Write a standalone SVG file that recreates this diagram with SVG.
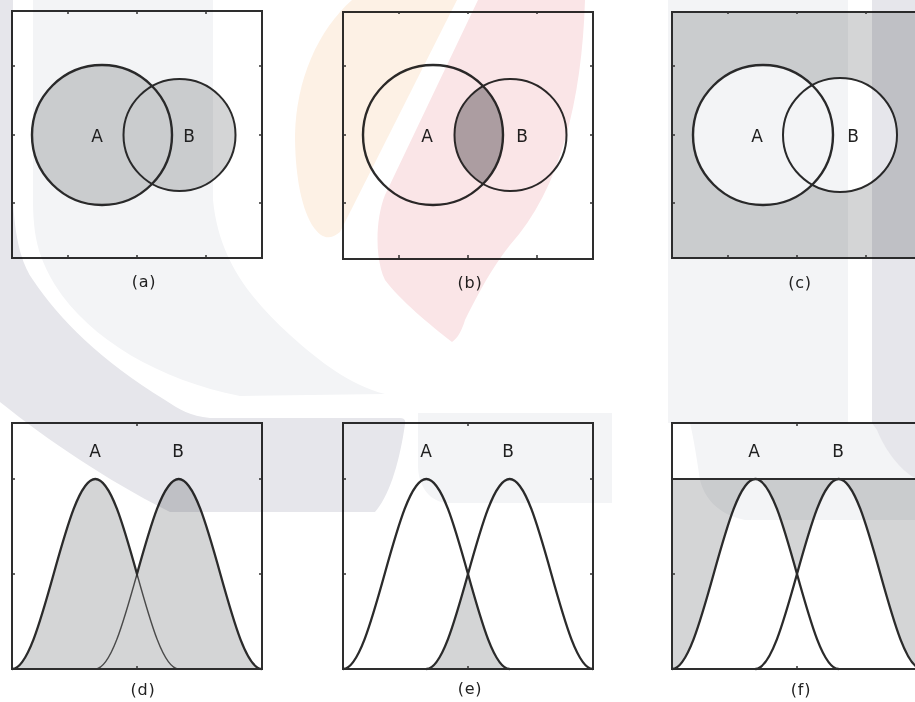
<svg xmlns="http://www.w3.org/2000/svg" width="915" height="702" viewBox="0 0 915 702">
<style>
.frame{fill:none;stroke:#2e2e2e;stroke-width:2}
.tick{fill:none;stroke:#333;stroke-width:1.5}
.cA{fill:none;stroke:#2b2b2b;stroke-width:2.4}
.cB{fill:none;stroke:#2b2b2b;stroke-width:2}
.crv{fill:none;stroke:#2b2b2b;stroke-width:2.3}
.thin{fill:none;stroke:#4a4a4a;stroke-width:1.4}
.gray{fill:#d4d5d6}
.dark{fill:#b0afb2}
.white{fill:#ffffff}
.lbl{font-family:"DejaVu Sans","Liberation Sans",sans-serif;font-size:17px;fill:#222;text-anchor:middle}
.cap{font-family:"DejaVu Sans","Liberation Sans",sans-serif;font-size:16px;fill:#222;text-anchor:middle;letter-spacing:0.8px}
.wm{mix-blend-mode:multiply}
</style>
<defs>
  <path id="ticksTop" class="tick" d="M56,11v3M125,11v3M194,11v3M56,258v-3M125,258v-3M194,258v-3M0,66h3M0,135h3M0,203h3M250,66h-3M250,135h-3M250,203h-3"/>
  <path id="ticksBot" class="tick" d="M125,423v3M125,669v-3M0,479h3M0,574h3M250,479h-3M250,574h-3"/>
  <clipPath id="clipA"><circle cx="90" cy="135" r="70"/></clipPath>
  <path id="curveA" d="M0,669 C30.3,669 53,479 83.3,479 C113.7,479 136.3,669 166.7,669"/>
  <path id="curveB" d="M83.3,669 C113.7,669 136.3,479 166.7,479 C197,479 219.7,669 250,669"/>
</defs>
<rect x="0" y="0" width="915" height="702" fill="#ffffff"/>

<g id="panel-a" transform="translate(12,0)">
  <circle class="gray" cx="90" cy="135" r="70"/>
  <circle class="gray" cx="167.5" cy="135" r="56"/>
  <circle class="cA" cx="90" cy="135" r="70"/>
  <circle class="cB" cx="167.5" cy="135" r="56"/>
  <rect class="frame" x="0" y="11" width="250" height="247"/>
  <use href="#ticksTop"/>
  <text class="lbl" x="85" y="142">A</text>
  <text class="lbl" x="177" y="142">B</text>
  <text class="cap" x="132" y="287">(a)</text>
</g>

<g id="panel-b" transform="translate(343,0)">
  <circle class="dark" cx="167.5" cy="135" r="56" clip-path="url(#clipA)"/>
  <circle class="cA" cx="90" cy="135" r="70"/>
  <circle class="cB" cx="167.5" cy="135" r="56"/>
  <rect class="frame" x="0" y="12" width="250" height="247"/>
  <use href="#ticksTop"/>
  <text class="lbl" x="84" y="142">A</text>
  <text class="lbl" x="179" y="142">B</text>
  <text class="cap" x="127" y="288">(b)</text>
</g>

<g id="panel-c" transform="translate(672,0)">
  <rect class="gray" x="0" y="12" width="250" height="246"/>
  <circle class="white" cx="91" cy="135" r="70"/>
  <circle class="white" cx="168" cy="135" r="57"/>
  <circle class="cA" cx="91" cy="135" r="70"/>
  <circle class="cB" cx="168" cy="135" r="57"/>
  <rect class="frame" x="0" y="12" width="250" height="246"/>
  <use href="#ticksTop"/>
  <text class="lbl" x="85" y="142">A</text>
  <text class="lbl" x="181" y="142">B</text>
  <text class="cap" x="128" y="288">(c)</text>
</g>

<g id="panel-d" transform="translate(12,0)">
  <path class="gray" d="M0,669 C30.3,669 53,479 83.3,479 C98.5,479 111.75,526.5 125,574 C138.25,526.5 151.5,479 166.7,479 C197,479 219.7,669 250,669 Z"/>
  <path class="thin" d="M83.3,669 C98.5,669 111.75,621.5 125,574 C138.25,621.5 151.5,669 166.7,669"/>
  <path class="crv" d="M0,669 C30.3,669 53,479 83.3,479 C98.5,479 111.75,526.5 125,574 C138.25,526.5 151.5,479 166.7,479 C197,479 219.7,669 250,669"/>
  <rect class="frame" x="0" y="423" width="250" height="246"/>
  <use href="#ticksBot"/>
  <text class="lbl" x="83" y="457">A</text>
  <text class="lbl" x="166" y="457">B</text>
  <text class="cap" x="131" y="695">(d)</text>
</g>

<g id="panel-e" transform="translate(343,0)">
  <path class="gray" d="M83.3,669 C98.5,669 111.75,621.5 125,574 C138.25,621.5 151.5,669 166.7,669 Z"/>
  <use href="#curveA" class="crv"/>
  <use href="#curveB" class="crv"/>
  <rect class="frame" x="0" y="423" width="250" height="246"/>
  <use href="#ticksBot"/>
  <text class="lbl" x="83" y="457">A</text>
  <text class="lbl" x="165" y="457">B</text>
  <text class="cap" x="127" y="694">(e)</text>
</g>

<g id="panel-f" transform="translate(672,0)">
  <path class="gray" fill-rule="evenodd" d="M0,479 H250 V669 H0 Z M0,669 C30.3,669 53,479 83.3,479 C98.5,479 111.75,526.5 125,574 C138.25,526.5 151.5,479 166.7,479 C197,479 219.7,669 250,669 Z"/>
  <use href="#curveA" class="crv"/>
  <use href="#curveB" class="crv"/>
  <path class="frame" d="M0,479 H250"/>
  <rect class="frame" x="0" y="423" width="250" height="246"/>
  <use href="#ticksBot"/>
  <text class="lbl" x="82" y="457">A</text>
  <text class="lbl" x="166" y="457">B</text>
  <text class="cap" x="129" y="695">(f)</text>
</g>

<g id="watermark" class="wm">
  <path fill="#e6e6eb" d="M0,0 L13,0 L13,200 C15,240 22,265 33,280 C60,320 100,360 165,400 C180,410 190,416 210,418 L400,418 C404,418 406,420 405,424 C400,460 390,495 375,512 L170,512 C110,482 50,442 0,402 Z"/>
  <path fill="#f3f4f6" d="M33,0 L213,0 L213,200 C218,250 240,290 290,335 C320,362 350,385 385,394 L240,396 C160,380 90,340 55,285 C40,260 33,240 33,200 Z"/>
  <path fill="#fdf1e5" d="M352,0 L457,0 L340,232 C330,240 322,240 312,225 C300,205 295,170 295,135 C296,80 318,30 352,0 Z"/>
  <path fill="#fae5e7" d="M478,0 L585,0 C582,100 560,190 510,245 C490,270 475,300 465,320 C462,330 458,338 452,342 C430,325 400,300 385,280 C375,260 375,220 385,195 Z"/>
  <path fill="#f3f4f6" d="M668,0 H848 V423 H668 Z"/>
  <path fill="#f3f4f6" d="M690,423 H915 V520 H745 C720,515 705,500 700,480 C697,460 694,440 690,423 Z"/>
  <path fill="#f3f4f6" d="M418,413 H612 V503 H445 C428,500 418,485 418,465 Z"/>
  <path fill="#e6e6eb" d="M872,0 H915 V478 C900,470 885,450 877,430 L872,423 Z"/>
</g>
</svg>
